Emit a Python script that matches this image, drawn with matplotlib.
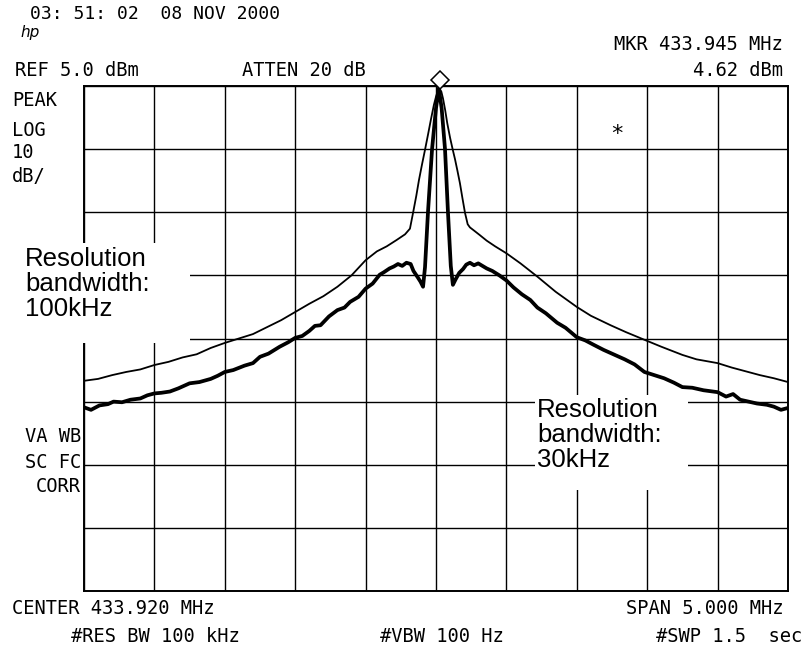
import matplotlib
matplotlib.use("Agg")
import matplotlib.pyplot as plt
import matplotlib.transforms as mtransforms
from matplotlib.patches import Rectangle
import numpy as np

# ---------------- data (frequency offset from centre in MHz, level in dBm) -----
center_mhz = 433.920
span_mhz = 5.0
ref_dbm = 5.0
db_per_div = 10
marker_freq_offset = 0.025
marker_level = 4.62

# Resolution bandwidth 100 kHz (thin trace)
f_rbw100 = [-2.5, -2.4, -2.3, -2.2, -2.1, -2.0, -1.9, -1.8, -1.7, -1.6, -1.5, -1.4,
            -1.3, -1.2, -1.1, -1.0, -0.9, -0.8, -0.7, -0.6, -0.5, -0.42, -0.35,
            -0.28, -0.22, -0.185, -0.163, -0.14, -0.121, -0.1, -0.078, -0.055,
            -0.036, -0.015, 0.0, 0.012, 0.025, 0.038, 0.05, 0.065, 0.08, 0.1,
            0.118, 0.135, 0.152, 0.17, 0.188, 0.206, 0.225, 0.241, 0.27, 0.31,
            0.36, 0.42, 0.5, 0.6, 0.72, 0.85, 1.0, 1.1, 1.24, 1.35, 1.48, 1.6,
            1.75, 1.85, 2.0, 2.1, 2.2, 2.3, 2.4, 2.5]
db_rbw100 = [-41.7, -41.4, -40.8, -40.3, -39.9, -39.2, -38.7, -38.0, -37.5, -36.5,
             -35.7, -35.0, -34.3, -33.2, -32.1, -30.8, -29.5, -28.3, -26.8, -25.0,
             -22.6, -21.2, -20.4, -19.4, -18.5, -17.6, -15.1, -12.4, -9.9, -7.5,
             -5.1, -2.5, -0.3, 2.0, 3.3, 4.2, 4.62, 4.1, 3.0, 1.2, -0.9, -3.2,
             -5.0, -6.6, -8.4, -10.4, -12.8, -15.1, -16.9, -17.4, -17.9, -18.6,
             -19.5, -20.4, -21.5, -23.1, -25.2, -27.6, -30.0, -31.4, -32.9, -34.0,
             -35.2, -36.3, -37.6, -38.3, -38.9, -39.6, -40.2, -40.8, -41.3, -41.9]

# Resolution bandwidth 30 kHz (thick trace)
f_rbw30 = [-2.5, -2.45, -2.39, -2.33, -2.29, -2.23, -2.17, -2.1, -2.05, -2.0,
           -1.95, -1.89, -1.83, -1.75, -1.68, -1.6, -1.55, -1.5, -1.44, -1.36,
           -1.3, -1.25, -1.19, -1.11, -1.05, -1.0, -0.95, -0.9, -0.86, -0.82,
           -0.76, -0.7, -0.65, -0.61, -0.55, -0.5, -0.45, -0.4, -0.37, -0.33,
           -0.3, -0.27, -0.24, -0.21, -0.18, -0.16, -0.13, -0.11, -0.092, -0.078,
           -0.057, -0.028, 0.0, 0.02, 0.04, 0.064, 0.085, 0.105, 0.12, 0.14,
           0.165, 0.192, 0.215, 0.241, 0.27, 0.3, 0.33, 0.36, 0.4, 0.45, 0.5,
           0.55, 0.61, 0.67, 0.72, 0.78, 0.86, 0.92, 1.0, 1.06, 1.12, 1.19,
           1.26, 1.34, 1.41, 1.48, 1.55, 1.62, 1.69, 1.75, 1.82, 1.9, 2.0,
           2.06, 2.11, 2.16, 2.22, 2.28, 2.35, 2.4, 2.45, 2.5]
db_rbw30 = [-45.9, -46.3, -45.6, -45.4, -45.0, -45.1, -44.7, -44.5, -44.0, -43.7,
            -43.6, -43.4, -42.9, -42.1, -41.9, -41.4, -40.9, -40.3, -40.0, -39.3,
            -38.9, -37.9, -37.4, -36.3, -35.6, -34.9, -34.6, -33.8, -33.0, -32.9,
            -31.5, -30.5, -30.1, -29.2, -28.4, -27.1, -26.3, -24.9, -24.5, -23.9,
            -23.6, -23.2, -23.5, -23.0, -23.2, -24.3, -25.3, -26.0, -26.8, -23.7,
            -15.0, -5.0, 1.5, 4.62, 1.5, -5.0, -15.0, -23.5, -26.5, -25.6,
            -24.6, -24.0, -23.3, -23.0, -23.4, -23.1, -23.5, -23.9, -24.3, -25.0,
            -25.8, -26.9, -28.0, -28.9, -30.1, -31.0, -32.5, -33.3, -34.8, -35.3,
            -36.0, -36.8, -37.5, -38.3, -39.1, -40.3, -40.8, -41.3, -42.0, -42.7,
            -42.8, -43.2, -43.5, -44.2, -43.8, -44.7, -45.0, -45.3, -45.5, -45.8,
            -46.3, -46.0]

# screen annotations
date_text = "03: 51: 02  08 NOV 2000"
mkr_text = "MKR 433.945 MHz"
ref_text = "REF 5.0 dBm"
atten_text = "ATTEN 20 dB"
mkr_level_text = "4.62 dBm"
left_labels_top = ["PEAK", "LOG", "10", "dB/"]
left_labels_bottom = ["VA WB", "SC FC", "CORR"]
center_text = "CENTER 433.920 MHz"
span_text = "SPAN 5.000 MHz"
resbw_text = "#RES BW 100 kHz"
vbw_text = "#VBW 100 Hz"
swp_text = "#SWP 1.5  sec"
label_100k = "Resolution\nbandwidth:\n100kHz"
label_30k = "Resolution\nbandwidth:\n30kHz"

# ---------------- figure ----------------
W, H = 807, 655
fig = plt.figure(figsize=(W / 100, H / 100), dpi=100)
fig.patch.set_facecolor("white")

def fx(px):
    return px / W

def fy(py):
    return 1 - py / H

L, R, T, B = 84, 788, 86, 591
ax = fig.add_axes([fx(L), fy(B), (R - L) / W, (B - T) / H])
ax.set_xlim(-span_mhz / 2, span_mhz / 2)
ax.set_ylim(ref_dbm - 8 * db_per_div, ref_dbm)
ax.set_xticks(np.linspace(-span_mhz / 2, span_mhz / 2, 11))
ax.set_yticks(np.arange(ref_dbm - 8 * db_per_div, ref_dbm + 0.1, db_per_div))
ax.tick_params(length=0, labelbottom=False, labelleft=False)
ax.grid(True, color="black", linewidth=1.0)
for s in ax.spines.values():
    s.set_color("black")
    s.set_linewidth(1.4)

ax.plot(f_rbw100, db_rbw100, color="black", linewidth=1.3, zorder=3)
ax.plot(f_rbw30, db_rbw30, color="black", linewidth=2.7, zorder=3)

# marker diamond above the peak
off = mtransforms.offset_copy(ax.transData, fig=fig, x=0, y=8, units="dots")
ax.plot([marker_freq_offset], [marker_level], marker="D", markersize=9,
        markerfacecolor="white", markeredgecolor="black", markeredgewidth=1.1,
        transform=off, clip_on=False, zorder=5)

mono = "DejaVu Sans Mono"
fs = 13.5
fig.text(fx(30), fy(14), date_text, family=mono, fontsize=fs - 0.5, ha="left", va="center")
fig.text(fx(20), fy(33), "hp", family="DejaVu Sans", style="italic", fontsize=11,
         ha="left", va="center")
fig.text(fx(783), fy(45), mkr_text, family=mono, fontsize=fs, ha="right", va="center")
fig.text(fx(15), fy(70), ref_text, family=mono, fontsize=fs, ha="left", va="center")
fig.text(fx(304), fy(70), atten_text, family=mono, fontsize=fs, ha="center", va="center")
fig.text(fx(783), fy(70), mkr_level_text, family=mono, fontsize=fs, ha="right", va="center")
for t, yy in zip(left_labels_top, [100, 130, 153, 176]):
    fig.text(fx(12), fy(yy), t, family=mono, fontsize=fs, ha="left", va="center")
for t, yy in zip(left_labels_bottom, [437, 462, 487]):
    fig.text(fx(81), fy(yy), t, family=mono, fontsize=fs, ha="right", va="center")
fig.text(fx(12), fy(608), center_text, family=mono, fontsize=fs, ha="left", va="center")
fig.text(fx(783), fy(608), span_text, family=mono, fontsize=fs, ha="right", va="center")
fig.text(fx(155), fy(637), resbw_text, family=mono, fontsize=fs, ha="center", va="center")
fig.text(fx(442), fy(637), vbw_text, family=mono, fontsize=fs, ha="center", va="center")
fig.text(fx(802), fy(637), swp_text, family=mono, fontsize=fs, ha="right", va="center")
fig.text(fx(617), fy(134), "*", family=mono, fontsize=16, ha="center", va="center")

# white boxes behind the annotation labels
fig.patches.append(Rectangle((fx(0), fy(343)), fx(190), (343 - 243) / H,
                             transform=fig.transFigure, facecolor="white",
                             edgecolor="none", zorder=2))
fig.patches.append(Rectangle((fx(535), fy(490)), fx(688 - 535), (490 - 395) / H,
                             transform=fig.transFigure, facecolor="white",
                             edgecolor="none", zorder=2))
fig.text(fx(25), fy(247), label_100k, family="Liberation Sans", fontsize=18.5,
         ha="left", va="top", linespacing=1.06, zorder=4)
fig.text(fx(537), fy(398), label_30k, family="Liberation Sans", fontsize=18.5,
         ha="left", va="top", linespacing=1.06, zorder=4)

fig.savefig("out.png", dpi=100, facecolor="white")
